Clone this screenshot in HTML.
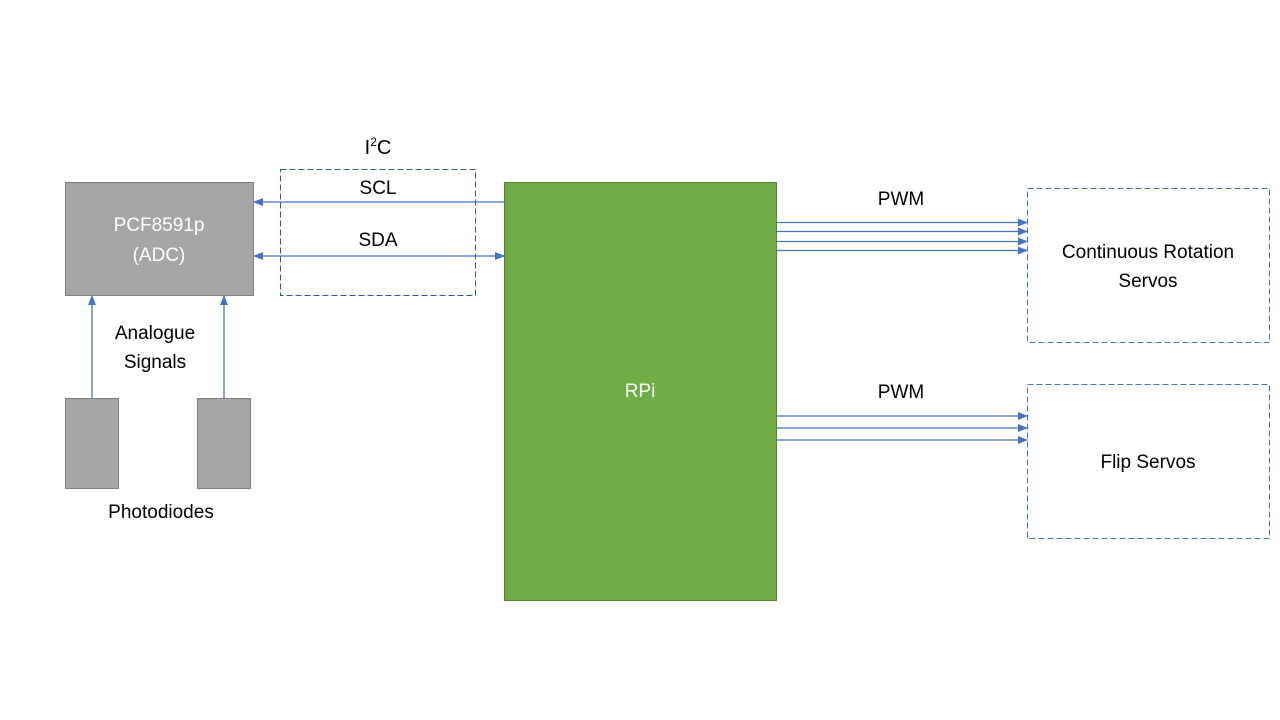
<!DOCTYPE html>
<html><head><meta charset="utf-8"><style>
html,body{margin:0;padding:0;background:#fff}
svg{display:block;font-family:"Liberation Sans","DejaVu Sans",sans-serif}
</style></head><body>
<svg width="1280" height="720" viewBox="0 0 1280 720">
<defs>
<marker id="ah" markerWidth="10" markerHeight="8" refX="9" refY="4" orient="auto" markerUnits="userSpaceOnUse">
<path d="M0,0 L10,4 L0,8 z" fill="#4472c4"/></marker>
<marker id="ahs" markerWidth="10" markerHeight="8" refX="1" refY="4" orient="auto" markerUnits="userSpaceOnUse">
<path d="M10,0 L0,4 L10,8 z" fill="#4472c4"/></marker>
</defs>
<g>
<text x="378" y="154" font-size="20" text-anchor="middle" fill="#000">I<tspan font-size="12" dy="-8">2</tspan><tspan dy="8">C</tspan></text>
<rect x="280.5" y="169.5" width="195" height="126" fill="none" stroke="#2f5597" stroke-width="1" stroke-dasharray="6,3"/>
<text x="378" y="194" font-size="19" text-anchor="middle">SCL</text>
<text x="378" y="246" font-size="19" text-anchor="middle">SDA</text>
</g>
<rect x="65.5" y="182.5" width="188" height="113" fill="#a6a6a6" stroke="#7f7f7f"/>
<text x="159" y="231" font-size="19" text-anchor="middle" fill="#fff">PCF8591p</text>
<text x="159" y="261" font-size="19" text-anchor="middle" fill="#fff">(ADC)</text>
<rect x="504.5" y="182.5" width="272" height="418" fill="#70ad47" stroke="#548235"/>
<text x="640" y="397" font-size="19" text-anchor="middle" fill="#fff">RPi</text>
<line x1="504" y1="202" x2="254" y2="202" stroke="#4472c4" stroke-width="1.3" marker-end="url(#ah)"/>
<line x1="254" y1="256" x2="504" y2="256" stroke="#4472c4" stroke-width="1.3" marker-start="url(#ahs)" marker-end="url(#ah)"/>
<rect x="65.5" y="398.5" width="53" height="90" fill="#a6a6a6" stroke="#7f7f7f"/>
<rect x="197.5" y="398.5" width="53" height="90" fill="#a6a6a6" stroke="#7f7f7f"/>
<line x1="92" y1="398" x2="92" y2="296" stroke="#4472c4" stroke-width="1.3" marker-end="url(#ah)"/>
<line x1="224" y1="398" x2="224" y2="296" stroke="#4472c4" stroke-width="1.3" marker-end="url(#ah)"/>
<text x="155" y="339" font-size="19" text-anchor="middle">Analogue</text>
<text x="155" y="368" font-size="19" text-anchor="middle">Signals</text>
<text x="161" y="518" font-size="19" text-anchor="middle">Photodiodes</text>
<text x="901" y="205" font-size="19" text-anchor="middle">PWM</text>
<text x="901" y="398" font-size="19" text-anchor="middle">PWM</text>
<g stroke="#4472c4" stroke-width="1.3">
<line x1="777" y1="222.5" x2="1027" y2="222.5" marker-end="url(#ah)"/>
<line x1="777" y1="231.5" x2="1027" y2="231.5" marker-end="url(#ah)"/>
<line x1="777" y1="241.5" x2="1027" y2="241.5" marker-end="url(#ah)"/>
<line x1="777" y1="250.5" x2="1027" y2="250.5" marker-end="url(#ah)"/>
<line x1="777" y1="416" x2="1027" y2="416" marker-end="url(#ah)"/>
<line x1="777" y1="428" x2="1027" y2="428" marker-end="url(#ah)"/>
<line x1="777" y1="440" x2="1027" y2="440" marker-end="url(#ah)"/>
</g>
<rect x="1027.5" y="188.5" width="242" height="154" fill="none" stroke="#4472c4" stroke-dasharray="6,3"/>
<text x="1148" y="258" font-size="19" text-anchor="middle">Continuous Rotation</text>
<text x="1148" y="287" font-size="19" text-anchor="middle">Servos</text>
<rect x="1027.5" y="384.5" width="242" height="154" fill="none" stroke="#4472c4" stroke-dasharray="6,3"/>
<text x="1148" y="468" font-size="19" text-anchor="middle">Flip Servos</text>
</svg>
</body></html>
